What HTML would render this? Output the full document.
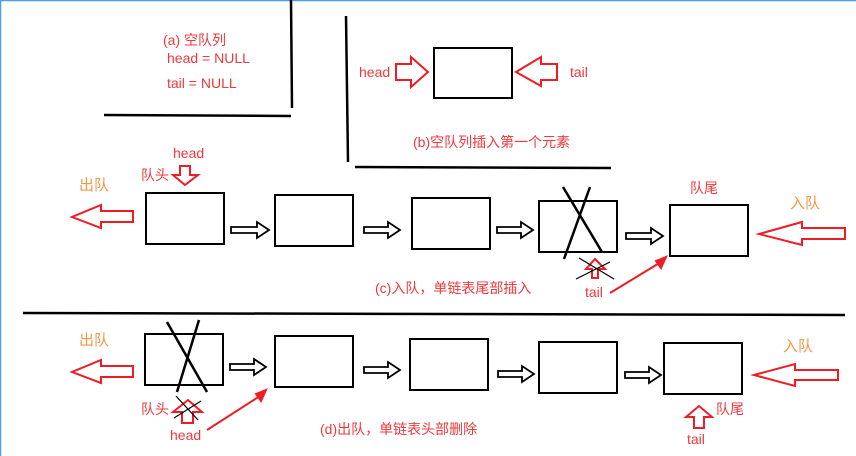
<!DOCTYPE html>
<html><head><meta charset="utf-8"><style>
html,body{margin:0;padding:0;background:#fff;width:856px;height:456px;overflow:hidden}
svg text{font-family:"Liberation Sans","Noto Sans CJK SC",sans-serif;font-size:14px;fill:#f0383c}
.o{fill:#f79646 !important;font-size:15px}
</style></head><body>
<svg width="856" height="456" viewBox="0 0 856 456" xmlns="http://www.w3.org/2000/svg">
<line x1="0" y1="0.5" x2="856" y2="0.5" stroke="#4aa0f0" stroke-width="1.5"/>
<line x1="0.5" y1="0" x2="0.5" y2="456" stroke="#4aa0f0" stroke-width="1.5"/>
<g stroke="#000" stroke-width="2.5" fill="none">
<line x1="291" y1="0" x2="292" y2="108"/>
<line x1="104" y1="115" x2="291" y2="116"/>
<line x1="346" y1="16" x2="348" y2="162"/>
<line x1="355" y1="167" x2="611" y2="168"/>
<line x1="23" y1="313" x2="845" y2="315"/>
</g>
<g stroke="#000" stroke-width="2" fill="none">
<rect x="434" y="48" width="78" height="50"/>
<rect x="146" y="193" width="78" height="51"/>
<rect x="275" y="195" width="78" height="51"/>
<rect x="412" y="198" width="78" height="51"/>
<rect x="539" y="201" width="78" height="51"/>
<rect x="670" y="205" width="78" height="51"/>
<rect x="145" y="334" width="78" height="51"/>
<rect x="275" y="336" width="78" height="51"/>
<rect x="410" y="339" width="78" height="51"/>
<rect x="539" y="342" width="78" height="51"/>
<rect x="664" y="343" width="78" height="51"/>
</g>
<g stroke="#000" stroke-width="1.8" fill="#fff">
<polygon points="231,227 257,227 257,222 269,230 257,238 257,233 231,233"/>
<polygon points="364,227 388,227 388,222 400,230 388,238 388,233 364,233"/>
<polygon points="497,227 521,227 521,222 533,230 521,238 521,233 497,233"/>
<polygon points="626,233 651,233 651,228 663,236 651,244 651,239 626,239"/>
<polygon points="230,364 254,364 254,359 266,367 254,375 254,370 230,370"/>
<polygon points="364,367 388,367 388,362 400,370 388,378 388,373 364,373"/>
<polygon points="498,371 522,371 522,366 534,374 522,382 522,377 498,377"/>
<polygon points="625,372 649,372 649,367 661,375 649,383 649,378 625,378"/>
</g>
<g stroke="#000" stroke-width="2.5">
<line x1="563" y1="187" x2="602" y2="252"/>
<line x1="590" y1="187" x2="564" y2="259"/>
<line x1="167" y1="322" x2="207" y2="392"/>
<line x1="199" y1="320" x2="177" y2="392"/>
</g>
<g stroke="#ee1c24" stroke-width="2" fill="#fff">
<polygon points="396,64 411,64 411,57 428,72 411,87 411,80 396,80"/>
<polygon points="557,64 541,64 541,57 516,72 541,86 541,80 557,80"/>
<polygon points="133,211 101,211 101,205 72,217 101,228 101,222 133,222"/>
<polygon points="845,228 802,228 802,222 759,234 802,245 802,239 845,239"/>
<polygon points="133,366 101,366 101,360 72,372 101,383 101,377 133,377"/>
<polygon points="838,370 795,370 795,364 754,375 795,386 795,380 838,380"/>
<polygon points="180,166 190,166 190,175 198,175 185,185 173,175 180,175"/>
<polygon points="592,278 598,278 598,269 605,269 595,259 586,269 592,269"/>
<polygon points="182,423 193,423 193,412 202,412 188,400 173,412 182,412"/>
<polygon points="694,428 704,428 704,417 712,417 699,406 686,417 694,417"/>
</g>
<g stroke="#ee1c24" stroke-width="2" fill="#ee1c24">
<line x1="610" y1="293" x2="661" y2="262"/>
<polygon points="656,261 666,257 661,268"/>
<line x1="207" y1="430" x2="260" y2="396"/>
<polygon points="256,394 266,390 261,401"/>
</g>
<g stroke="#000" stroke-width="1.2">
<line x1="579" y1="258" x2="614" y2="279"/>
<line x1="576" y1="279" x2="610" y2="262"/>
<line x1="176" y1="396" x2="198" y2="420"/>
<line x1="174" y1="418" x2="201" y2="401"/>
</g>
<text x="163" y="45">(a) 空队列</text>
<text x="167" y="63">head = NULL</text>
<text x="167" y="88">tail = NULL</text>
<text x="359" y="77">head</text>
<text x="570" y="77">tail</text>
<text x="413" y="147">(b)空队列插入第一个元素</text>
<text x="173" y="158">head</text>
<text x="141" y="180">队头</text>
<text class="o" x="79" y="190">出队</text>
<text class="o" x="790" y="208">入队</text>
<text x="690" y="193">队尾</text>
<text x="585" y="297">tail</text>
<text x="375" y="293">(c)入队，单链表尾部插入</text>
<text class="o" x="79" y="345">出队</text>
<text class="o" x="783" y="351">入队</text>
<text x="141" y="414">队头</text>
<text x="170" y="440">head</text>
<text x="320" y="434">(d)出队，单链表头部删除</text>
<text x="716" y="414">队尾</text>
<text x="687" y="444">tail</text>
</svg>
</body></html>
